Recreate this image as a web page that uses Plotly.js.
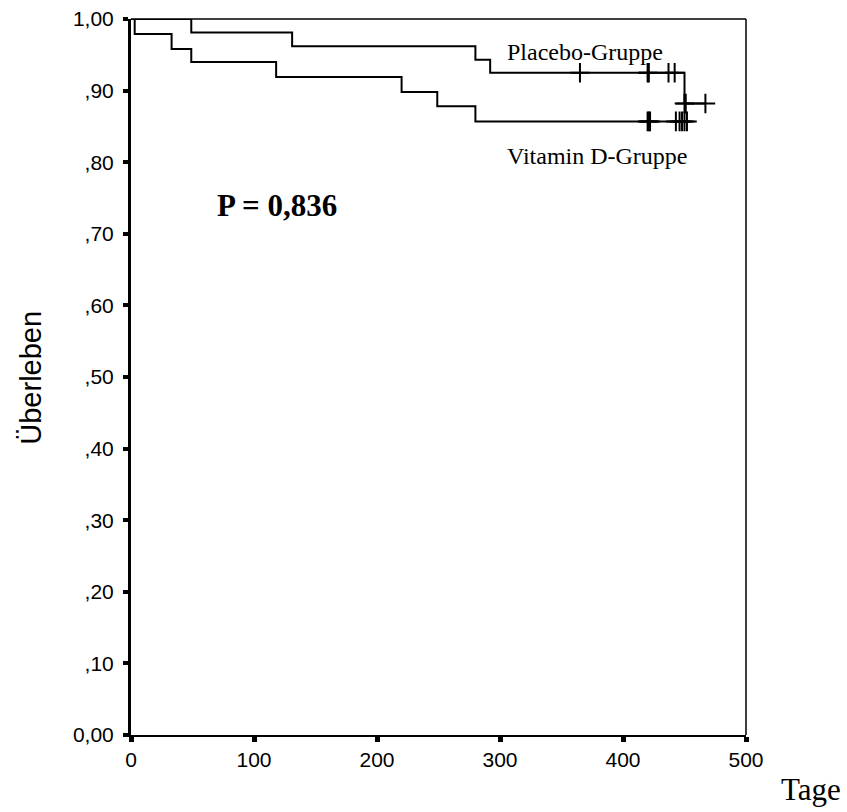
<!DOCTYPE html>
<html>
<head>
<meta charset="utf-8">
<script src="https://cdn.plot.ly/plotly-3.0.1.min.js"></script>
<style>html,body{margin:0;padding:0;background:#fff;}#chart{width:847px;height:812px;}</style>
</head>
<body>
<div id="chart"></div>
<script>
// Placebo group (Kaplan-Meier step curve)
const placeboDays = [0, 49, 131, 280, 292, 450, 467];
const placeboSurv = [1.000, 0.981, 0.962, 0.943, 0.925, 0.882, 0.882];
const placeboCensorDays = [365, 420, 421, 437, 442, 450, 451, 467];
const placeboCensorSurv = [0.925, 0.925, 0.925, 0.925, 0.925, 0.882, 0.882, 0.882];

// Vitamin D group
const vitDDays = [0, 3, 33, 49, 118, 220, 249, 280, 452];
const vitDSurv = [1.000, 0.979, 0.958, 0.940, 0.919, 0.898, 0.878, 0.857, 0.857];
const vitDCensorDays = [420, 421, 422, 443, 446, 448, 450, 452];
const vitDCensorSurv = [0.857, 0.857, 0.857, 0.857, 0.857, 0.857, 0.857, 0.857];

const yTickVals = [0, 0.1, 0.2, 0.3, 0.4, 0.5, 0.6, 0.7, 0.8, 0.9, 1.0];
const yTickText = ["0,00", ",10", ",20", ",30", ",40", ",50", ",60", ",70", ",80", ",90", "1,00"];
const xTickVals = [0, 100, 200, 300, 400, 500];

const lineStyle = {color: '#000', width: 2, shape: 'hv'};
const censorMarker = {symbol: 'cross-thin', size: 14, line: {color: '#000', width: 2}, color: '#000'};

const traces = [
  {x: placeboDays, y: placeboSurv, mode: 'lines', line: lineStyle, hoverinfo: 'skip', cliponaxis: false},
  {x: vitDDays, y: vitDSurv, mode: 'lines', line: lineStyle, hoverinfo: 'skip', cliponaxis: false},
  {x: placeboCensorDays, y: placeboCensorSurv, mode: 'markers', marker: censorMarker, hoverinfo: 'skip', cliponaxis: false},
  {x: vitDCensorDays, y: vitDCensorSurv, mode: 'markers', marker: censorMarker, hoverinfo: 'skip', cliponaxis: false}
];

const serif = 'Liberation Serif, Times New Roman, serif';
const sans = 'Liberation Sans, Arial, sans-serif';

const layout = {
  width: 847, height: 812,
  margin: {l: 131, r: 101, t: 19, b: 77},
  paper_bgcolor: '#fff', plot_bgcolor: '#fff',
  showlegend: false,
  font: {family: sans, size: 21, color: '#000'},
  xaxis: {
    range: [0, 500], tickvals: xTickVals, ticktext: xTickVals.map(String),
    showgrid: false, zeroline: false, showline: true, linecolor: '#000', linewidth: 2,
    ticks: 'outside', ticklen: 5, tickwidth: 5, tickcolor: '#000',
    tickfont: {family: sans, size: 21, color: '#000'}
  },
  yaxis: {
    range: [0, 1], tickvals: yTickVals, ticktext: yTickText,
    showgrid: false, zeroline: false, showline: true, linecolor: '#000', linewidth: 3,
    ticks: 'outside', ticklen: 5, tickwidth: 4, tickcolor: '#000', ticklabelstandoff: 5,
    tickfont: {family: sans, size: 21, color: '#000'}
  },
  shapes: [
    {type: 'line', xref: 'paper', yref: 'paper', x0: 0, x1: 1, y0: 1, y1: 1, line: {color: '#000', width: 1.5}},
    {type: 'line', xref: 'paper', yref: 'paper', x0: 1, x1: 1, y0: 0, y1: 1, line: {color: '#000', width: 1.5}}
  ],
  annotations: [
    {x: -0.1626, y: 0.499, xref: 'paper', yref: 'paper', text: 'Überleben', textangle: -90, showarrow: false,
     xanchor: 'center', yanchor: 'middle', font: {family: sans, size: 29, color: '#000'}},
    {x: 0.608, y: 0.954, xref: 'paper', yref: 'paper', text: 'Placebo-Gruppe', showarrow: false,
     xanchor: 'left', yanchor: 'middle', font: {family: serif, size: 24, color: '#000'}},
    {x: 0.608, y: 0.808, xref: 'paper', yref: 'paper', text: 'Vitamin D-Gruppe', showarrow: false,
     xanchor: 'left', yanchor: 'middle', font: {family: serif, size: 24, color: '#000'}},
    {x: 0.2374, y: 0.740, xref: 'paper', yref: 'paper', text: '<b>P = 0,836</b>', showarrow: false,
     xanchor: 'center', yanchor: 'middle', font: {family: serif, size: 31, color: '#000'}},
    {x: 1.1057, y: -0.0768, xref: 'paper', yref: 'paper', text: 'Tage', showarrow: false,
     xanchor: 'center', yanchor: 'middle', font: {family: serif, size: 31, color: '#000'}}
  ]
};

Plotly.newPlot('chart', traces, layout, {staticPlot: true, displayModeBar: false});
</script>
</body>
</html>
